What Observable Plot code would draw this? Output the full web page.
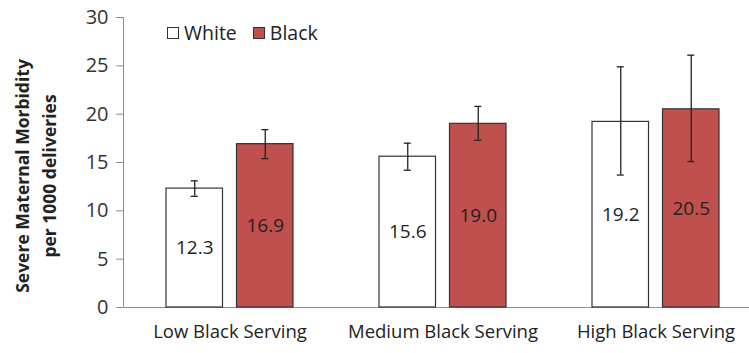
<!DOCTYPE html>
<html><head><meta charset="utf-8">
<script src="https://cdn.jsdelivr.net/npm/d3@7"></script>
<script src="https://cdn.jsdelivr.net/npm/@observablehq/plot@0.6"></script>
<style>
body{margin:0;background:#fff;}
#wrap{position:relative;width:749px;height:353px;font-family:"Open Sans",sans-serif;color:#222;}
#ytitle{position:absolute;left:0;top:0;width:260px;text-align:center;font-weight:bold;font-size:17.5px;line-height:27px;
  transform-origin:0 0;transform:translate(9px,306px) rotate(-90deg);}
#legend{position:absolute;left:167px;top:21px;font-size:19.5px;display:flex;align-items:center;line-height:24px;}
.sw{display:inline-block;width:12px;height:12px;border:1px solid #333;margin-right:5px;box-sizing:border-box;}
</style></head><body><div id="wrap"></div>
<script>
const groups = ["Low Black Serving", "Medium Black Serving", "High Black Serving"];
const races = ["White", "Black"];
const whiteValues = [12.3, 15.6, 19.2];
const blackValues = [16.9, 19.0, 20.5];
const whiteLow = [11.5, 14.2, 13.7];
const whiteHigh = [13.1, 17.0, 24.9];
const blackLow = [15.4, 17.3, 15.1];
const blackHigh = [18.4, 20.8, 26.1];
const yTicks = [0, 5, 10, 15, 20, 25, 30];
const yTitle = ["Severe Maternal Morbidity", "per 1000 deliveries"];

const colors = {White: "#ffffff", Black: "#c0504d"};
const white = groups.map((g, i) => ({group: g, race: "White", value: whiteValues[i], lo: whiteLow[i], hi: whiteHigh[i]}));
const black = groups.map((g, i) => ({group: g, race: "Black", value: blackValues[i], lo: blackLow[i], hi: blackHigh[i]}));

const bandW = 127, barW = 56.5;
const off = (bandW - barW) / 2;

function raceMarks(data, dx) {
  return [
    Plot.barY(data, {x: "group", y: "value", fill: d => colors[d.race], stroke: "#333", strokeWidth: 1.2,
      insetLeft: off, insetRight: off, dx}),
    Plot.ruleX(data, {x: "group", y1: "lo", y2: "hi", stroke: "#222", strokeWidth: 1.3, dx}),
    Plot.tickY(data, {x: "group", y: "lo", stroke: "#222", strokeWidth: 1.3, insetLeft: 60, insetRight: 60, dx}),
    Plot.tickY(data, {x: "group", y: "hi", stroke: "#222", strokeWidth: 1.3, insetLeft: 60, insetRight: 60, dx}),
    Plot.text(data, {x: "group", y: d => d.value / 2, text: d => d.value.toFixed(1), fill: "#222",
      fontSize: 19, dx})
  ];
}

const chart = Plot.plot({
  width: 749,
  height: 353,
  marginTop: 17,
  marginBottom: 46,
  marginLeft: 123,
  marginRight: 0,
  style: {fontFamily: "Open Sans, sans-serif", background: "#fff"},
  x: {domain: groups, range: [123, 762], paddingInner: 0.404, paddingOuter: 0.202, label: null},
  y: {domain: [0, 30], label: null},
  marks: [
    Plot.frame({anchor: "left", stroke: "#8c8c8c"}),
    Plot.ruleY([0], {stroke: "#8c8c8c"}),
    Plot.axisY({ticks: yTicks, tickSize: 7, tickPadding: 8, fontSize: 20, stroke: "#8c8c8c", fill: "#333", label: null}),
    Plot.axisX({tickSize: 0, tickPadding: 17, fontSize: 18.5, fill: "#222", label: null}),
    ...raceMarks(white, -off),
    ...raceMarks(black, off)
  ]
});

const wrap = document.getElementById("wrap");
wrap.appendChild(chart);

const t = document.createElement("div");
t.id = "ytitle";
t.innerHTML = yTitle.map(s => `<div>${s}</div>`).join("");
wrap.appendChild(t);

const lg = document.createElement("div");
lg.id = "legend";
lg.innerHTML = races.map((r, i) =>
  `<span class="sw" style="background:${colors[r]}"></span><span style="margin-right:${i ? 0 : 16}px">${r}</span>`).join("");
wrap.appendChild(lg);
</script></body></html>
